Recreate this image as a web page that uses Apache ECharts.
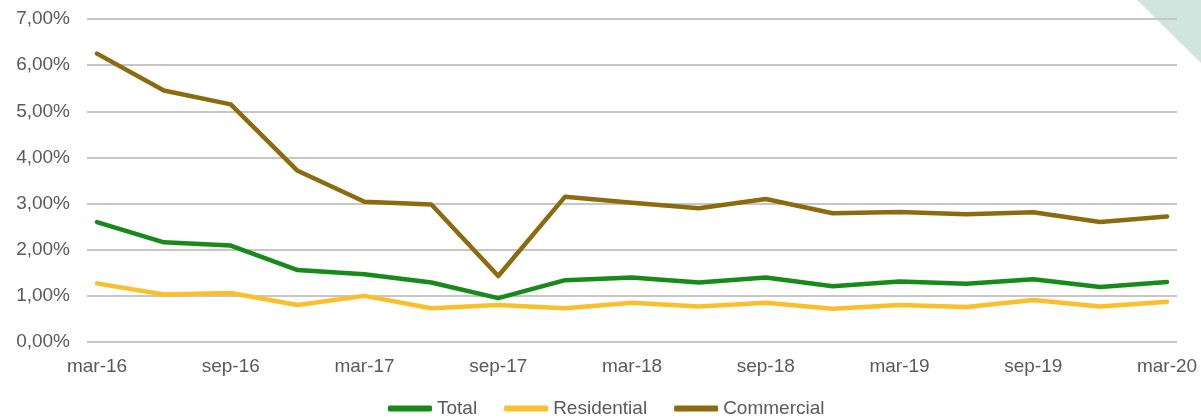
<!DOCTYPE html>
<html>
<head>
<meta charset="utf-8">
<style>
  html, body { margin: 0; padding: 0; background: #ffffff; }
  #chart { width: 1201px; height: 419px; }
</style>
<script src="https://cdn.jsdelivr.net/npm/echarts@6/dist/echarts.min.js"></script>
</head>
<body>
<div id="chart"></div>
<script>
// Quarterly non-performing ratio, March 2016 to March 2020 (%)
const categories = [
  'mar-16', 'jun-16', 'sep-16', 'dic-16',
  'mar-17', 'jun-17', 'sep-17', 'dic-17',
  'mar-18', 'jun-18', 'sep-18', 'dic-18',
  'mar-19', 'jun-19', 'sep-19', 'dic-19',
  'mar-20'
];
const totalValues = [2.60, 2.16, 2.09, 1.56, 1.47, 1.29, 0.95, 1.34, 1.40, 1.29, 1.40, 1.21, 1.31, 1.26, 1.36, 1.19, 1.30];
const residentialValues = [1.27, 1.03, 1.06, 0.80, 1.00, 0.73, 0.80, 0.73, 0.85, 0.77, 0.85, 0.72, 0.80, 0.76, 0.91, 0.77, 0.87];
const commercialValues = [6.25, 5.45, 5.15, 3.71, 3.04, 2.98, 1.43, 3.15, 3.02, 2.90, 3.10, 2.79, 2.82, 2.77, 2.81, 2.60, 2.72];
const yTicks = [0, 1, 2, 3, 4, 5, 6, 7];

const colors = { total: '#178a1a', residential: '#fbbf2b', commercial: '#8c6b0e' };
const textColor = '#5a5a5a';
const fontFamily = '"Liberation Sans", Arial, sans-serif';

const fmtPct = v => v.toFixed(2).replace('.', ',') + '%';

const chart = echarts.init(document.getElementById('chart'), null, { renderer: 'canvas' });

chart.setOption({
  animation: false,
  backgroundColor: '#ffffff',
  textStyle: { fontFamily: fontFamily },
  graphic: [{
    type: 'polygon',
    silent: true,
    z: -10,
    shape: { points: [[1137, 0], [1201, 0], [1201, 63]] },
    style: { fill: '#cfe5dd' }
  }],
  legend: {
    data: ['Total', 'Residential', 'Commercial'],
    left: 388,
    top: 399,
    padding: 0,
    icon: 'roundRect',
    itemWidth: 44,
    itemHeight: 6,
    itemGap: 27,
    textStyle: { color: textColor, fontSize: 19, fontFamily: fontFamily }
  },
  grid: [
    // wide grid carrying the horizontal rules and the percentage labels
    { left: 87, right: 24, top: 19, bottom: 77 },
    // inner grid carrying the series
    { left: 97, right: 34, top: 19, bottom: 77 }
  ],
  xAxis: [
    { gridIndex: 0, type: 'value', min: 0, max: 1, show: false },
    {
      gridIndex: 1,
      type: 'category',
      data: categories,
      boundaryGap: false,
      axisLine: { show: false },
      axisTick: { show: false },
      splitLine: { show: false },
      axisLabel: {
        interval: 1,
        margin: 15,
        color: textColor,
        fontSize: 19,
        fontFamily: fontFamily
      }
    }
  ],
  yAxis: [
    {
      gridIndex: 0,
      type: 'value',
      min: yTicks[0],
      max: yTicks[yTicks.length - 1],
      interval: 1,
      axisLine: { show: false },
      axisTick: { show: false },
      splitLine: { lineStyle: { color: '#c6c6c6', width: 2 } },
      axisLabel: {
        margin: 17,
        color: textColor,
        fontSize: 19,
        fontFamily: fontFamily,
        formatter: v => fmtPct(v)
      }
    },
    {
      gridIndex: 1,
      type: 'value',
      min: yTicks[0],
      max: yTicks[yTicks.length - 1],
      show: false,
      splitLine: { show: false }
    }
  ],
  series: [
    {
      name: 'Total',
      type: 'line',
      xAxisIndex: 1,
      yAxisIndex: 1,
      data: totalValues,
      symbol: 'none',
      color: colors.total,
      lineStyle: { color: colors.total, width: 4.5, cap: 'round', join: 'round' }
    },
    {
      name: 'Residential',
      type: 'line',
      xAxisIndex: 1,
      yAxisIndex: 1,
      data: residentialValues,
      symbol: 'none',
      color: colors.residential,
      lineStyle: { color: colors.residential, width: 4.5, cap: 'round', join: 'round' }
    },
    {
      name: 'Commercial',
      type: 'line',
      xAxisIndex: 1,
      yAxisIndex: 1,
      data: commercialValues,
      symbol: 'none',
      color: colors.commercial,
      lineStyle: { color: colors.commercial, width: 4.5, cap: 'round', join: 'round' }
    }
  ]
});
</script>
</body>
</html>
